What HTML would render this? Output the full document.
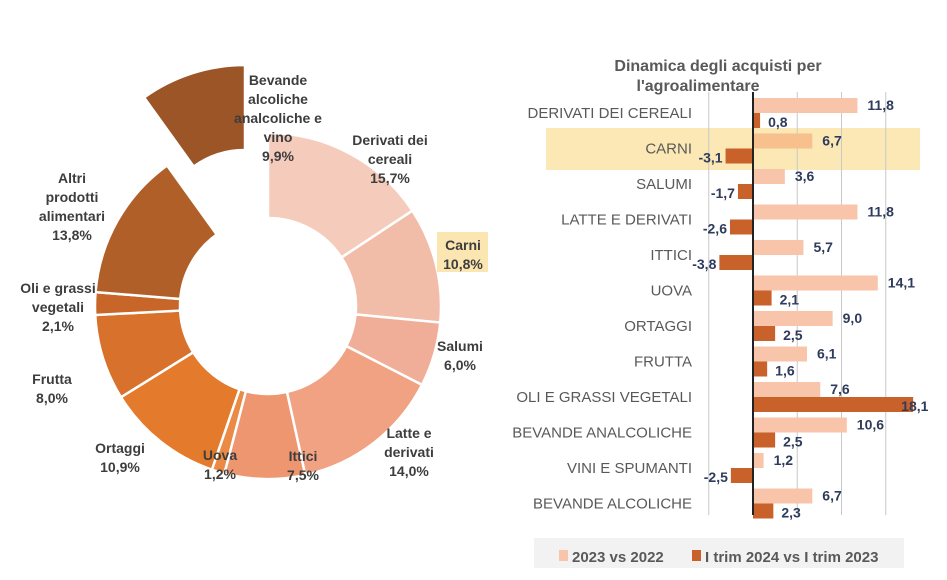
<!DOCTYPE html>
<html><head><meta charset="utf-8">
<style>
body{margin:0;background:#fff;}
svg{display:block;font-family:"Liberation Sans",sans-serif;}
.pl{font-weight:bold;fill:#3d3d3d;font-size:14px;text-anchor:middle;}
.cat{fill:#595959;font-size:15px;text-anchor:end;}
.val{font-weight:bold;fill:#2f3b5c;font-size:14px;}
</style></head>
<body>
<svg id="chart" width="947" height="580" viewBox="0 0 947 580">
<g id="donut"></g>
<g id="donutLabels"></g>
<g id="bars"></g>
</svg>
<script>
// ---- donut data ----
const donutCats = ["Derivati dei cereali","Carni","Salumi","Latte e derivati","Ittici","Uova","Ortaggi","Frutta","Oli e grassi vegetali","Altri prodotti alimentari","Bevande alcoliche analcoliche e vino"];
const donutVals = [15.7,10.8,6.0,14.0,7.5,1.2,10.9,8.0,2.1,13.8,9.9];
const donutLabelText = ["15,7%","10,8%","6,0%","14,0%","7,5%","1,2%","10,9%","8,0%","2,1%","13,8%","9,9%"];
// ---- bar data ----
const barCats = ["DERIVATI DEI CEREALI","CARNI","SALUMI","LATTE E DERIVATI","ITTICI","UOVA","ORTAGGI","FRUTTA","OLI E GRASSI VEGETALI","BEVANDE ANALCOLICHE","VINI E SPUMANTI","BEVANDE ALCOLICHE"];
const series2023 = [11.8,6.7,3.6,11.8,5.7,14.1,9.0,6.1,7.6,10.6,1.2,6.7];
const seriesTrim = [0.8,-3.1,-1.7,-2.6,-3.8,2.1,2.5,1.6,18.1,2.5,-2.5,2.3];
const gridTicks = [-5,5,10,15];

const NS="http://www.w3.org/2000/svg";
function mk(tag,attrs,parent){const e=document.createElementNS(NS,tag);for(const k in attrs)e.setAttribute(k,attrs[k]);parent.appendChild(e);return e;}

// donut
const cx=268,cy=306,R=173,r=88;
const colors=["#f5cbbb","#f2bda8","#f0ae98","#f0a282","#ee9670","#ea8a45","#e47a2c","#d8712b","#c8662a","#b05f28","#9b5526"];
const dg=document.getElementById('donut');
const total=donutVals.reduce((a,b)=>a+b,0);
let acc=0;
function pt(a,rad){return [cx+rad*Math.sin(a),cy-rad*Math.cos(a)];}
donutVals.forEach((v,i)=>{
  const a0=acc/total*2*Math.PI, a1=(acc+v)/total*2*Math.PI; acc+=v;
  const [x0,y0]=pt(a0,R),[x1,y1]=pt(a1,R),[x2,y2]=pt(a1,r),[x3,y3]=pt(a0,r);
  const lg=(a1-a0)>Math.PI?1:0;
  const d=`M${x0},${y0} A${R},${R} 0 ${lg} 1 ${x1},${y1} L${x2},${y2} A${r},${r} 0 ${lg} 0 ${x3},${y3} Z`;
  const p=mk('path',{d:d,fill:colors[i],stroke:'#fff','stroke-width':2.5},dg);
  if(i===donutVals.length-1)p.setAttribute('transform','translate(-23,-68)');
  
  
});
// donut labels
const lg=document.getElementById('donutLabels');
const labelSpecs=[
 [390,140,["Derivati dei","cereali"]],
 [463,245,["Carni"]],
 [460,346,["Salumi"]],
 [409,433,["Latte e","derivati"]],
 [303,456,["Ittici"]],
 [220,455,["Uova"]],
 [120,448,["Ortaggi"]],
 [52,379,["Frutta"]],
 [58,288,["Oli e grassi","vegetali"]],
 [72,178,["Altri","prodotti","alimentari"]],
 [278,80,["Bevande","alcoliche","analcoliche e","vino"]]
];
const hb=mk('rect',{x:437,y:232,width:51,height:40,fill:'#fbe6b2'},lg);


labelSpecs.forEach((s,i)=>{
  const lines=s[2].concat([donutLabelText[i]]);
  lines.forEach((t,j)=>{
    const tx=mk('text',{x:s[0],y:s[1]+j*19+5,class:'pl'},lg);
    tx.textContent=t;
    
    
  });
});

// bars
const bg=document.getElementById('bars');
const x0=753, ppu=8.85, rowTop=98, rowH=35.5, bh=15;
const xs=v=>x0+v*ppu;
const hl=mk('rect',{x:546,y:128,width:374,height:42,fill:'#fbe8b5'},bg);


gridTicks.forEach(t=>{
  const l=mk('line',{x1:xs(t),x2:xs(t),y1:92,y2:515,stroke:'#c8c8c8','stroke-width':1},bg);
  
  
});
const tt=mk('text',{x:718,y:71,'font-size':16,'font-weight':'bold',fill:'#595959','text-anchor':'middle'},bg);
tt.textContent="Dinamica degli acquisti per";


const tt2=mk('text',{x:698,y:91,'font-size':16,'font-weight':'bold',fill:'#595959','text-anchor':'middle'},bg);
tt2.textContent="l'agroalimentare";


const fmt=v=>v.toFixed(1).replace('.',',');
barCats.forEach((c,i)=>{
  const y=rowTop+i*rowH;
  const ct=mk('text',{x:692,y:y+20,class:'cat'},bg);
  ct.textContent=c;
  
  
  const a=series2023[i], b=seriesTrim[i];
  const r1=mk('rect',{x:Math.min(xs(0),xs(a)),y:y,width:Math.abs(xs(a)-xs(0)),height:bh,fill:i===1?'#f7c08c':'#f8c5aa'},bg);
  
  
  const r2=mk('rect',{x:Math.min(xs(0),xs(b)),y:y+bh,width:Math.abs(xs(b)-xs(0)),height:bh,fill:'#c9612a'},bg);
  
  
  const v1=mk('text',{x:xs(Math.max(a,0))+10,y:y+12,class:'val'},bg);
  v1.textContent=fmt(a);
  
  
  const v2=mk('text',{x:b>=0?xs(b)+(b>15?-12:8):xs(b)-3,y:y+bh+14,class:'val','text-anchor':b>=0?'start':'end'},bg);
  v2.textContent=fmt(b);
  
  
});
const ax=mk('line',{x1:x0,x2:x0,y1:92,y2:515,stroke:'#222','stroke-width':2},bg);


// legend
const lgb=mk('rect',{x:534,y:538,width:370,height:30,fill:'#f2f2f2'},bg);


const l1=mk('rect',{x:559,y:550,width:9,height:11,fill:'#f8c5aa'},bg);


const lt1=mk('text',{x:572,y:562,'font-size':15,'font-weight':'bold',fill:'#595959'},bg);
lt1.textContent="2023 vs 2022";


const l2=mk('rect',{x:692,y:550,width:9,height:11,fill:'#c9612a'},bg);


const lt2=mk('text',{x:705,y:562,'font-size':15,'font-weight':'bold',fill:'#595959'},bg);
lt2.textContent="I trim 2024 vs I trim 2023";


</script>
</body></html>
